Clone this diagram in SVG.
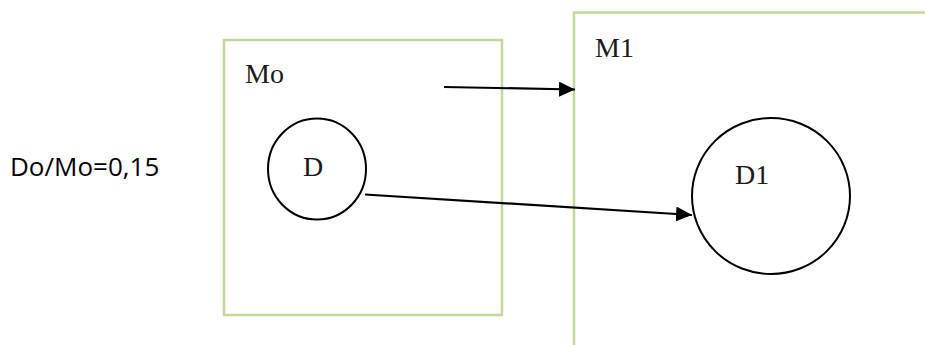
<svg xmlns="http://www.w3.org/2000/svg" width="925" height="345" viewBox="0 0 925 345">
<style>
.box{fill:none;stroke:#c3d69b;stroke-width:2.5}
.circ{fill:none;stroke:#000;stroke-width:2}
.serif{font-family:"Liberation Serif","Times New Roman",serif;font-size:28px;fill:#1a1a1a}
.sans{font-family:"Open Sans","Liberation Sans",sans-serif;font-size:26px;fill:#000}
.conn{stroke:#000;stroke-width:2.2;fill:none}
</style>
<defs>
<marker id="ah" markerUnits="userSpaceOnUse" markerWidth="17" markerHeight="16" refX="16" refY="7.5" orient="auto">
<path d="M0,0 L16,7.5 L0,15 z" fill="#000"/>
</marker>
</defs>
<rect width="925" height="345" fill="#fff"/>
<g id="label">
<text class="sans" x="10" y="176">Do/Mo=0,15</text>
</g>
<g id="Mo">
<rect class="box" x="224" y="40" width="278" height="275"/>
<text class="serif" x="245" y="83">Mo</text>
</g>
<g id="M1">
<path class="box" d="M574,345 L574,12.5 L925,12.5"/>
<text class="serif" x="595" y="57">M1</text>
</g>
<g id="D">
<ellipse class="circ" cx="317" cy="169" rx="49" ry="50.5"/>
<text class="serif" x="303" y="176">D</text>
</g>
<g id="D1">
<ellipse class="circ" cx="771" cy="196" rx="79" ry="78"/>
<text class="serif" x="735" y="184">D1</text>
</g>
<g id="connectors">
<line class="conn" x1="444" y1="87" x2="575" y2="89.5" marker-end="url(#ah)"/>
<line class="conn" x1="365" y1="194.5" x2="692" y2="215" marker-end="url(#ah)"/>
</g>
</svg>
